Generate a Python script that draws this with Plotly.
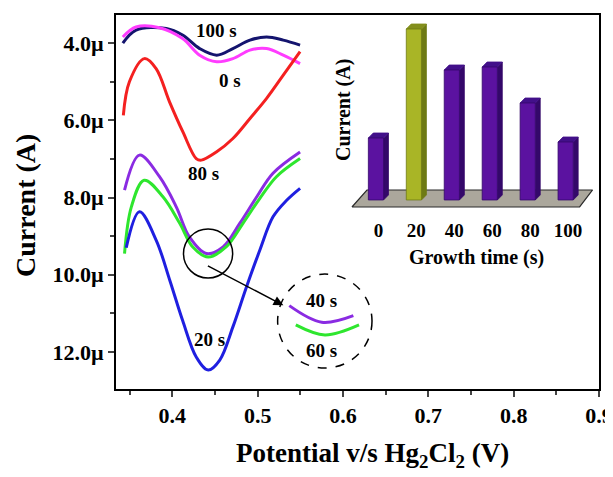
import plotly.graph_objects as go

# ---------------- main DPV curves (potential V, current µA; axis reversed) -------------
x_100 = [0.342, 0.3575, 0.393, 0.412, 0.432, 0.452, 0.471, 0.491, 0.5105, 0.530, 0.5497]
y_100 = [4.00, 3.66, 3.62, 3.79, 4.14, 4.31, 4.14, 3.92, 3.84, 3.92, 4.05]

x_0 = [0.342, 0.3575, 0.385, 0.412, 0.432, 0.452, 0.471, 0.491, 0.5105, 0.530, 0.5497]
y_0 = [3.84, 3.58, 3.60, 3.88, 4.31, 4.48, 4.40, 4.18, 4.14, 4.31, 4.53]

x_80 = [0.3426, 0.3497, 0.3673, 0.381, 0.3967, 0.4124, 0.428, 0.434, 0.4516, 0.471, 0.491, 0.5105, 0.530, 0.5497]
y_80 = [5.87, 5.00, 4.40, 4.66, 5.52, 6.30, 6.99, 7.03, 6.82, 6.47, 5.95, 5.43, 4.83, 4.22]

x_40 = [0.344, 0.3615, 0.385, 0.4046, 0.420, 0.440, 0.4595, 0.479, 0.499, 0.518, 0.5497]
y_40 = [7.81, 6.90, 7.46, 8.24, 9.02, 9.45, 9.28, 8.67, 7.98, 7.37, 6.82]

x_60 = [0.344, 0.352, 0.367, 0.389, 0.4085, 0.424, 0.442, 0.463, 0.483, 0.5026, 0.522, 0.5497]
y_60 = [9.45, 8.24, 7.55, 7.98, 8.66, 9.28, 9.54, 9.28, 8.66, 8.02, 7.46, 6.99]

x_20 = [0.346, 0.3615, 0.381, 0.397, 0.412, 0.428, 0.442, 0.4556, 0.471, 0.487, 0.5026, 0.518, 0.534, 0.5497]
y_20 = [9.30, 8.37, 9.10, 10.14, 11.18, 12.13, 12.47, 12.21, 11.35, 10.31, 9.36, 8.50, 8.07, 7.76]

y_tickvals = [4.0, 6.0, 8.0, 10.0, 12.0]
y_ticktext = ["4.0µ", "6.0µ", "8.0µ", "10.0µ", "12.0µ"]
x_tickvals = [0.4, 0.5, 0.6, 0.7, 0.8, 0.9]
x_ticktext = ["0.4", "0.5", "0.6", "0.7", "0.8", "0.9"]

# ---------------- inset bar chart ----------------
growth_time = ["0", "20", "40", "60", "80", "100"]
bar_current = [3.1, 8.55, 6.5, 6.65, 4.85, 2.9]

FONT = "Liberation Serif"
fig = go.Figure()

curves = [
    (x_100, y_100, "#14146E", "100 s"),
    (x_0, y_0, "#FF3CFF", "0 s"),
    (x_80, y_80, "#F42020", "80 s"),
    (x_40, y_40, "#8A2BE2", "40 s"),
    (x_60, y_60, "#2EE62E", "60 s"),
    (x_20, y_20, "#1F1FE0", "20 s"),
]
for xs, ys, col, name in curves:
    fig.add_trace(go.Scatter(x=xs, y=ys, mode="lines", line=dict(color=col, width=3, shape="spline", smoothing=1.0),
                             name=name, showlegend=False, xaxis="x", yaxis="y", hoverinfo="skip"))

# magnified detail in dashed circle (derived from the 40 s and 60 s data near the minimum)
zc = (0.4419, 9.45)     # zoom source centre
zd = (0.5787, 11.23)    # zoom destination centre
mx = 1.9
detail = [(x_40, y_40, "#8A2BE2", 0.0), (x_60, y_60, "#2EE62E", 0.24)]
for xs, ys, col, off in detail:
    px, py = [], []
    for xv, yv in zip(xs, ys):
        if 0.415 <= xv <= 0.465:
            px.append(zd[0] + mx * (xv - zc[0]))
            py.append(zd[1] + (yv - zc[1]) + off)
    fig.add_trace(go.Scatter(x=px, y=py, mode="lines", line=dict(color=col, width=3, shape="spline"),
                             showlegend=False, xaxis="x", yaxis="y", hoverinfo="skip"))

# ---------------- inset 3D bars drawn from values ----------------
bw, dx, dy = 0.4, 0.13, 0.25
pos = list(range(len(growth_time)))
n = len(pos)
fig.add_trace(go.Scatter(x=[-0.632, n - 1 + 0.368, n - 1 + 0.71, -0.237, -0.632],
                         y=[-0.35, -0.35, 0.5, 0.5, -0.35], fill="toself", mode="lines",
                         fillcolor="#ABA79C", line=dict(color="#2a2a2a", width=1.2),
                         xaxis="x2", yaxis="y2", showlegend=False, hoverinfo="skip"))
front_c = ["#5B12A0", "#A9B526", "#5B12A0", "#5B12A0", "#5B12A0", "#5B12A0"]
side_c = ["#34086A", "#6E7A14", "#34086A", "#34086A", "#34086A", "#34086A"]
top_c = ["#42108A", "#838F1C", "#42108A", "#42108A", "#42108A", "#42108A"]
for i, (p, h) in enumerate(zip(pos, bar_current)):
    l, r = p - bw / 2, p + bw / 2
    fig.add_trace(go.Scatter(x=[r, r + dx, r + dx, r, r], y=[0, dy, h + dy, h, 0], fill="toself", mode="lines",
                             fillcolor=side_c[i], line=dict(color=side_c[i], width=0.8),
                             xaxis="x2", yaxis="y2", showlegend=False, hoverinfo="skip"))
    fig.add_trace(go.Scatter(x=[l, r, r + dx, l + dx, l], y=[h, h, h + dy, h + dy, h], fill="toself", mode="lines",
                             fillcolor=top_c[i], line=dict(color=top_c[i], width=0.8),
                             xaxis="x2", yaxis="y2", showlegend=False, hoverinfo="skip"))
    fig.add_trace(go.Scatter(x=[l, r, r, l, l], y=[0, 0, h, h, 0], fill="toself", mode="lines",
                             fillcolor=front_c[i], line=dict(color=side_c[i], width=0.8),
                             xaxis="x2", yaxis="y2", showlegend=False, hoverinfo="skip"))

tickfont = dict(family=FONT, size=22, color="black", weight="bold")
# page body has an 8px margin; figure sized so that the page is exactly 613x477
fig.update_layout(
    width=605, height=469,
    margin=dict(l=108, r=14, t=7, b=88, autoexpand=False),
    paper_bgcolor="white", plot_bgcolor="white",
    showlegend=False,
    xaxis=dict(range=[0.334, 0.9], tickvals=x_tickvals, ticktext=x_ticktext, ticks="outside", ticklen=6,
               tickwidth=2, showline=True, linewidth=2, linecolor="black", mirror=True, showgrid=False,
               zeroline=False, tickfont=tickfont, automargin=False,
               minor=dict(ticks="outside", ticklen=4, tickwidth=2, dtick=0.1, tick0=0.35, showgrid=False)),
    yaxis=dict(range=[12.96, 3.27], tickvals=y_tickvals, ticktext=y_ticktext, ticks="outside",
               ticklen=6, tickwidth=2, showline=True, linewidth=2, linecolor="black", mirror=True,
               showgrid=False, zeroline=False, tickfont=tickfont, automargin=False,
               minor=dict(ticks="outside", ticklen=4, tickwidth=2, dtick=2, tick0=5, showgrid=False)),
    xaxis2=dict(domain=[0.4596, 0.9938], anchor="y2", range=[-1.0, 5.8], automargin=False,
                tickvals=[p + dx / 2 for p in pos], ticktext=growth_time, ticks="outside", ticklen=1,
                tickcolor="rgba(0,0,0,0)", showline=False, showgrid=False, zeroline=False,
                tickfont=dict(family=FONT, size=19, color="black", weight="bold")),
    yaxis2=dict(domain=[0.4733, 0.992], anchor="x2", range=[-0.6, 9.1], visible=False, automargin=False),
)


def px2paper(px, py):
    return (px - 116) / 483, (389 - py) / 374


ann = []
tx, ty = px2paper(372, 455)
ann.append(dict(x=tx, y=ty, xref="paper", yref="paper", showarrow=False, xanchor="center", yanchor="middle",
                text="Potential v/s Hg<sub>2</sub>Cl<sub>2</sub> (V)",
                font=dict(family=FONT, size=27, color="black", weight="bold")))
tx, ty = px2paper(25, 206)
ann.append(dict(x=tx, y=ty, xref="paper", yref="paper", showarrow=False, textangle=-90,
                xanchor="center", yanchor="middle",
                text="Current (A)", font=dict(family=FONT, size=28, color="black", weight="bold")))
tx, ty = px2paper(476, 258)
ann.append(dict(x=tx, y=ty, xref="paper", yref="paper", showarrow=False, xanchor="center", yanchor="middle",
                text="Growth time (s)", font=dict(family=FONT, size=20, color="black", weight="bold")))
tx, ty = px2paper(343, 110)
ann.append(dict(x=tx, y=ty, xref="paper", yref="paper", showarrow=False, textangle=-90,
                xanchor="center", yanchor="middle",
                text="Current (A)", font=dict(family=FONT, size=20, color="black", weight="bold")))

lab_font = dict(family=FONT, size=19, color="black", weight="bold")
for txt, xv, yv in [("100 s", 0.4517, 3.66), ("0 s", 0.4673, 4.96), ("80 s", 0.436, 7.38),
                    ("20 s", 0.4438, 11.69), ("40 s", 0.5752, 10.66), ("60 s", 0.5752, 11.95)]:
    ann.append(dict(x=xv, y=yv, xref="x", yref="y", text=txt, showarrow=False, font=lab_font,
                    xanchor="center", yanchor="middle"))

ann.append(dict(x=0.5301, y=10.79, ax=0.4399, ay=9.75, xref="x", yref="y", axref="x", ayref="y",
                text="", showarrow=True, arrowhead=2, arrowsize=1.3, arrowwidth=1.5, arrowcolor="black"))
fig.update_layout(annotations=ann)

fig.add_shape(type="circle", xref="x", yref="y", x0=0.4419 - 0.0288, x1=0.4419 + 0.0288,
              y0=9.45 - 0.635, y1=9.45 + 0.635, line=dict(color="black", width=1.5))
fig.add_shape(type="circle", xref="x", yref="y", x0=0.5787 - 0.0553, x1=0.5787 + 0.0553,
              y0=11.2 - 1.218, y1=11.2 + 1.218, line=dict(color="black", width=1.5, dash="dash"))

fig.write_html("out.html")
